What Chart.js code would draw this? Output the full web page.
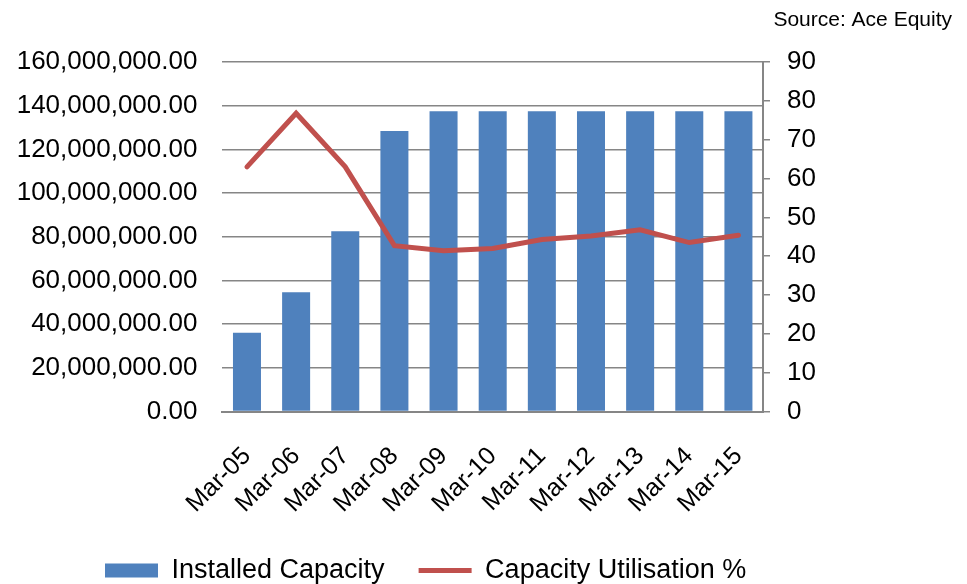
<!DOCTYPE html>
<html>
<head>
<meta charset="utf-8">
<script src="https://cdn.jsdelivr.net/npm/chart.js@4/dist/chart.umd.min.js"></script>
<style>
  html, body { margin: 0; padding: 0; background: #fff; }
  #frame { width: 967px; height: 584px; overflow: hidden; position: relative; }
  canvas { display: block; }
</style>
</head>
<body>
<div id="frame"><canvas id="chart" width="967" height="594"></canvas></div>
<script>
// Installed capacity (left axis) and utilisation % (right axis), yearly at March.
const categories = ['Mar-05', 'Mar-06', 'Mar-07', 'Mar-08', 'Mar-09', 'Mar-10',
                    'Mar-11', 'Mar-12', 'Mar-13', 'Mar-14', 'Mar-15'];
const installedCapacity = [36000000, 54600000, 82500000, 128400000, 137500000, 137500000,
                           137500000, 137500000, 137500000, 137500000, 137500000];
const utilisationPct = [63.0, 76.8, 63.0, 42.7, 41.4, 42.0, 44.3, 45.2, 46.8, 43.5, 45.4];
const leftTicks = [0, 20000000, 40000000, 60000000, 80000000, 100000000, 120000000, 140000000, 160000000];
const rightTicks = [0, 10, 20, 30, 40, 50, 60, 70, 80, 90];

const FONT = '"Liberation Sans", Arial, Helvetica, sans-serif';
const BLUE = '#4F81BD';
const RED = '#C0504D';
const GRID = '#868686';

// Shift the legend row to sit under the left part of the chart.
const legendShift = {
  id: 'legendShift',
  afterLayout(chart) {
    const lg = chart.legend;
    if (!lg) return;
    const w = lg.right - lg.left;
    lg.left = 71;
    lg.right = 71 + w;
  }
};

new Chart(document.getElementById('chart'), {
  type: 'bar',
  data: {
    labels: categories,
    datasets: [
      {
        type: 'bar',
        label: 'Installed Capacity',
        data: installedCapacity,
        backgroundColor: BLUE,
        borderWidth: 0,
        yAxisID: 'y',
        categoryPercentage: 1.0,
        barPercentage: 0.57,
        order: 2
      },
      {
        type: 'line',
        label: 'Capacity Utilisation %',
        data: utilisationPct,
        borderColor: RED,
        backgroundColor: RED,
        borderWidth: 5,
        pointRadius: 0,
        tension: 0,
        borderCapStyle: 'round',
        yAxisID: 'y2',
        order: 1
      }
    ]
  },
  options: {
    responsive: false,
    devicePixelRatio: 1,
    animation: false,
    layout: { padding: { left: 0, right: 15, top: 0, bottom: 0 } },
    plugins: {
      tooltip: { enabled: false },
      title: {
        display: true,
        text: 'Source: Ace Equity',
        align: 'end',
        color: '#000',
        font: { family: FONT, size: 21, weight: 'normal' },
        padding: { top: 8, bottom: 28.8 }
      },
      legend: {
        position: 'bottom',
        align: 'start',
        labels: {
          color: '#000',
          font: { family: FONT, size: 27 },
          padding: 34,
          usePointStyle: true,
          pointStyleWidth: 53,
          boxHeight: 14,
          generateLabels(chart) {
            const ds = chart.data.datasets;
            return [
              { text: ds[0].label, fillStyle: BLUE, strokeStyle: BLUE, lineWidth: 0,
                pointStyle: 'rect', datasetIndex: 0, hidden: false },
              { text: ds[1].label, fillStyle: RED, strokeStyle: RED, lineWidth: 5,
                lineCap: 'butt', pointStyle: 'line', datasetIndex: 1, hidden: false }
            ];
          }
        }
      }
    },
    scales: {
      x: {
        type: 'category',
        offset: true,
        grid: { display: false, drawTicks: false },
        border: { display: true, color: GRID, width: 2 },
        ticks: {
          color: '#000',
          font: { family: FONT, size: 25 },
          minRotation: 45,
          maxRotation: 45,
          padding: 30,
          labelOffset: 0,
          autoSkip: false
        },
        afterFit(scale) { scale.height = 111.5; }
      },
      y: {
        position: 'left',
        min: 0,
        max: 160000000,
        afterBuildTicks(scale) { scale.ticks = leftTicks.map(v => ({ value: v })); },
        grid: { color: GRID, lineWidth: 1.5, drawTicks: false },
        border: { display: false },
        ticks: {
          color: '#000',
          font: { family: FONT, size: 26 },
          padding: 25,
          callback: v => Number(v).toLocaleString('en-US', { minimumFractionDigits: 2, maximumFractionDigits: 2 })
        },
        afterFit(scale) { scale.width = 222.4; }
      },
      y2: {
        position: 'right',
        min: 0,
        max: 90,
        afterBuildTicks(scale) { scale.ticks = rightTicks.map(v => ({ value: v })); },
        grid: { drawOnChartArea: false, color: GRID, lineWidth: 1.5, drawTicks: true, tickLength: 7 },
        border: { display: true, color: GRID, width: 2 },
        ticks: {
          color: '#000',
          font: { family: FONT, size: 26 },
          padding: 17
        },
        afterFit(scale) { scale.width = 189; }
      }
    }
  },
  plugins: [legendShift]
});
</script>
</body>
</html>
